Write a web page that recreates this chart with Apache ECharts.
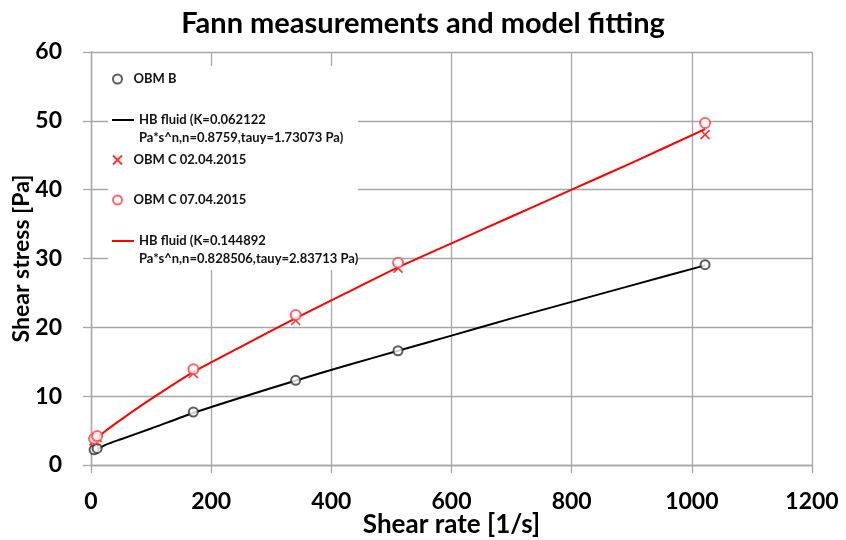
<!DOCTYPE html>
<html>
<head>
<meta charset="utf-8">
<script src="https://cdn.jsdelivr.net/npm/echarts@6/dist/echarts.min.js"></script>
<style>
  html, body { margin: 0; padding: 0; background: #fff; }
  #chart { width: 846px; height: 540px; }
</style>
</head>
<body>
<div id="chart"></div>
<script>
// measured points (Fann speeds 3, 6, 100, 200, 300, 600 rpm)
const shearRate = [5.11, 10.22, 170.3, 340.6, 511, 1022]
const obmB = [2.2, 2.4, 7.7, 12.3, 16.6, 29.1]
const obmC0204 = [3.5, 4.0, 13.3, 21.0, 28.6, 48.0]
const obmC0704 = [3.8, 4.2, 13.9, 21.8, 29.4, 49.7]

// model curves
const fitRate = [5.11, 25, 50, 100, 170, 250, 340, 425, 511, 600, 700, 800, 900, 1022]
const hbBlack = [2.0, 2.95, 3.75, 5.3, 7.55, 9.8, 12.25, 14.45, 16.6, 18.8, 21.3, 23.7, 26.1, 29.0]
const hbRed = [3.5, 5.0, 6.6, 9.6, 13.5, 17.2, 21.3, 25.0, 28.7, 32.2, 36.1, 40.0, 43.9, 48.8]

const names = [
  'OBM B',
  'HB fluid (K=0.062122\nPa*s^n,n=0.8759,tauy=1.73073 Pa)',
  'OBM C 02.04.2015',
  'OBM C 07.04.2015',
  'HB fluid (K=0.144892\nPa*s^n,n=0.828506,tauy=2.83713 Pa)'
]

const pair = (xs, ys) => xs.map((x, i) => [x, ys[i]])
const font = 'Lato, "Open Sans", sans-serif'
const gridGray = '#a6a6a6'
const crossPath = 'path://M0,0L10,10M10,0L0,10'
const linePath = 'path://M0,0L22,0L22,2L0,2Z'

const legendText = { fontFamily: font, fontWeight: 'bold', fontSize: 13, color: '#111', lineHeight: 18 }
// one legend per entry so each can sit where it is in the picture
const legendAt = (name, top, isLine) => ({
  data: [isLine ? { name: name, icon: linePath } : name],
  left: 112,
  top: top,
  padding: 0,
  itemWidth: 22,
  itemHeight: isLine ? 2 : 9,
  selectedMode: false,
  // leading blank line keeps the line icon level with the first text line
  formatter: isLine ? n => '\n' + n : n => n,
  textStyle: legendText
})

const myChart = echarts.init(document.getElementById('chart'))
const option = {
  backgroundColor: '#fff',
  animation: false,
  title: {
    text: 'Fann measurements and model fitting',
    left: 'center',
    top: 4,
    textStyle: { fontFamily: font, fontWeight: 'bold', fontSize: 29, color: '#000' }
  },
  grid: { left: 91, right: 34, top: 52, bottom: 75, containLabel: false, outerBoundsMode: 'none' },
  // white box behind the legend hides the grid lines
  graphic: [
    {
      type: 'rect',
      z: 3,
      shape: { x: 108, y: 66, width: 250, height: 204 },
      style: { fill: '#fff' }
    }
  ],
  legend: [
    legendAt(names[0], 70),
    legendAt(names[1], 93, true),
    legendAt(names[2], 151),
    legendAt(names[3], 191),
    legendAt(names[4], 214, true)
  ],
  xAxis: {
    type: 'value',
    min: 0,
    max: 1200,
    interval: 200,
    name: 'Shear rate [1/s]',
    nameLocation: 'middle',
    nameGap: 47,
    nameMoveOverlap: false,
    nameTextStyle: { fontFamily: font, fontWeight: 'bold', fontSize: 26, color: '#000' },
    axisLine: { show: true, lineStyle: { color: gridGray, width: 1.3 } },
    axisTick: { show: true, inside: false, length: 8, lineStyle: { color: gridGray, width: 1.3 } },
    axisLabel: { margin: 25, fontFamily: font, fontWeight: 'bold', fontSize: 23, color: '#000', formatter: v => String(v) },
    splitLine: { show: true, lineStyle: { color: gridGray, width: 1.3 } }
  },
  yAxis: {
    type: 'value',
    min: 0,
    max: 60,
    interval: 10,
    name: 'Shear stress [Pa]',
    nameLocation: 'middle',
    nameGap: 58,
    nameMoveOverlap: false,
    nameTextStyle: { fontFamily: font, fontWeight: 'bold', fontSize: 23, color: '#000' },
    axisLine: { show: true, lineStyle: { color: gridGray, width: 1.3 } },
    axisTick: { show: true, inside: false, length: 8, lineStyle: { color: gridGray, width: 1.3 } },
    axisLabel: { margin: 29, fontFamily: font, fontWeight: 'bold', fontSize: 23, color: '#000' },
    splitLine: { show: true, lineStyle: { color: gridGray, width: 1.3 } }
  },
  series: [
    {
      name: names[0],
      type: 'scatter',
      symbol: 'emptyCircle',
      symbolSize: 9,
      itemStyle: { color: '#333', borderColor: '#333', borderWidth: 1 },
      z: 4,
      data: pair(shearRate, obmB)
    },
    {
      name: names[1],
      type: 'line',
      symbol: 'none',
      smooth: 0.2,
      lineStyle: { color: '#000', width: 2 },
      itemStyle: { color: '#000' },
      data: pair(fitRate, hbBlack)
    },
    {
      name: names[2],
      type: 'scatter',
      symbol: crossPath,
      symbolSize: 9,
      itemStyle: { color: '#ff0000', borderColor: '#ff0000', borderWidth: 1.6 },
      z: 4,
      data: pair(shearRate, obmC0204)
    },
    {
      name: names[3],
      type: 'scatter',
      symbol: 'emptyCircle',
      symbolSize: 10,
      itemStyle: { color: '#ff4040', borderColor: '#ff4040', borderWidth: 1 },
      z: 4,
      data: pair(shearRate, obmC0704)
    },
    {
      name: names[4],
      type: 'line',
      symbol: 'none',
      smooth: 0.2,
      lineStyle: { color: '#ff0000', width: 2 },
      itemStyle: { color: '#ff0000' },
      data: pair(fitRate, hbRed)
    }
  ]
}
myChart.setOption(option)
</script>
</body>
</html>
